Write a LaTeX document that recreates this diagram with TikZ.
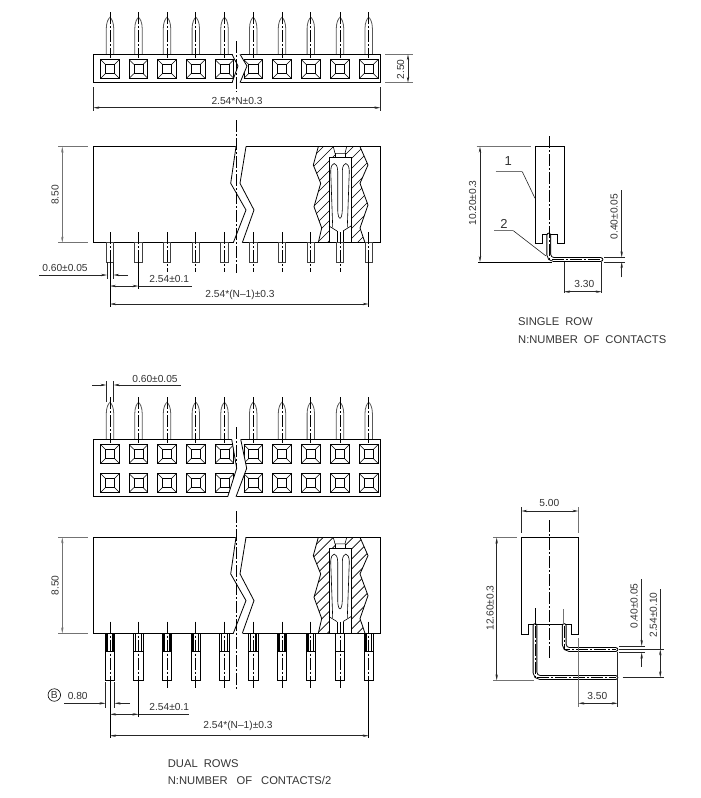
\documentclass[tikz,border=0pt]{standalone}
\usepackage{fontspec}
\setmainfont{Liberation Sans}
\usetikzlibrary{arrows.meta}
\tikzset{
  part/.style={draw, line width=0.8pt},
  thin part/.style={draw, line width=0.6pt},
  centreline/.style={draw, line width=0.7pt, dash pattern=on 12pt off 2pt on 2pt off 2pt},
  dimline/.style={draw, line width=0.6pt, black!85, >={Stealth[length=6pt,width=2.4pt]}},
  dimgrey/.style={dimline, black!55},
  dimtext/.style={font=\fontsize{10.2}{12}\selectfont, text=black!80, inner sep=0pt},
  calltext/.style={font=\fontsize{13}{15}\selectfont, text=black!80, inner sep=0pt},
  notetext/.style={font=\fontsize{11.2}{13}\selectfont, text=black!80, inner sep=0pt, anchor=west},
  pinwire/.style={draw, line width=0.9pt, double, double distance=2.8pt, rounded corners=5pt, line cap=round}
}
\def\pinxs{110,138.5,167,195.8,224.5,253.2,282,310.8,340,368.7}
\newcommand{\socketcell}[2]{
  \begin{scope}[shift={(#1,#2)}]
    \path [part] (-9.3,-9.3) rectangle (9.3,9.3);
    \path [thin part] (-4.7,-4.7) rectangle (4.7,4.7);
    \path [thin part] (-9.3,-9.3) -- (-4.7,-4.7) (9.3,-9.3) -- (4.7,-4.7);
    \path [thin part] (-9.3,9.3) -- (-4.7,4.7) (9.3,9.3) -- (4.7,4.7);
  \end{scope}
}
\newcommand{\pintop}[2]{
  \path [part, black!65] (#1-3.7,#2) -- (#1-3.7,#2-26) .. controls (#1-3.7,#2-32) and (#1-1.5,#2-36) .. (#1,#2-37)
    .. controls (#1+1.5,#2-36) and (#1+3.7,#2-32) .. (#1+3.7,#2-26) -- (#1+3.7,#2);
  \path [centreline] (#1,#2-42) -- (#1,#2+4);
}
\begin{document}
\begin{tikzpicture}[x=1pt,y=-1pt]
  \useasboundingbox (0,0) rectangle (701,798);

  % single row, top view
  \foreach \px in \pinxs { \pintop{\px}{54.3} }
  \path [part] (93.3,54.3) rectangle (380.5,82.7);
  \foreach \px in \pinxs { \socketcell{\px}{69} }
  \path [fill=white] (232,53) -- (238,66) -- (232,84) -- (240,84) -- (247,66) -- (240,53) -- cycle;
  \path [part] (232,54.3) -- (238,66) -- (232,82.7);
  \path [part] (240,54.3) -- (247,66) -- (240,82.7);
  \path [centreline] (236.7,41) -- (236.7,92);

  % housing front view, one for each row type
  \foreach \by in {0,390.6} {
    \begin{scope}[shift={(0,\by)}]
      \path [part] (93.3,146.7) rectangle (380.5,242.7);
      \path [fill=white] (236,145) -- (230.7,183.3) -- (246,210) -- (233.3,244) -- (242.3,244) -- (254,210) -- (240,183.3) -- (246,145) -- cycle;
      \path [part] (236,146.7) -- (230.7,183.3) -- (246,210) -- (233.3,242.7);
      \path [part] (246,146.7) -- (240,183.3) -- (254,210) -- (242.3,242.7);
      % section through one contact
      \begin{scope}
        \clip (318.3,146.7) -- (313.3,165) -- (320.7,183.3) -- (314,206.7) -- (321.7,228) -- (318.3,242.7) -- (329,242.7) -- (329,157.3) -- (335,157.3) -- (335,153.3) -- (333.3,146.7) -- cycle
          (346.7,146.7) -- (345,153.3) -- (345,157.3) -- (351,157.3) -- (351,242.7) -- (365,242.7) -- (360,228) -- (368,205) -- (360,183.3) -- (368,165) -- (360,146.7) -- cycle;
        \foreach \h in {150,160,...,310} { \path [thin part] (310,\h) -- ++(62,-62); }
      \end{scope}
      \path [part] (318.3,146.7) -- (313.3,165) -- (320.7,183.3) -- (314,206.7) -- (321.7,228) -- (318.3,242.7);
      \path [part] (360,146.7) -- (368,165) -- (360,183.3) -- (368,205) -- (360,228) -- (365,242.7);
      \path [part] (329,242.7) -- (329,157.3) -- (351,157.3) -- (351,242.7);
      \path [thin part] (333.3,146.7) -- (335,153.3) -- (345,153.3) -- (346.7,146.7);
      \path [thin part] (335,153.3) -- (335,157.3) (345,153.3) -- (345,157.3);
      \path [thin part] (332.7,227.3) -- (330.7,171) .. controls (331,161) and (337.4,161) .. (337.7,171) -- (337.7,210)
        .. controls (338,221) and (342,221) .. (342.3,210) -- (342.3,171) .. controls (342.6,161) and (349,161) .. (349.3,171) -- (347.3,227.3);
      \path [thin part] (329,226) -- (337,231) (351,226) -- (343,231);
      \path [thin part] (337,231) -- (337,242.7) (343,231) -- (343,242.7);
    \end{scope}
  }
  \path [centreline] (236.7,120) -- (236.7,273);
  \path [centreline] (236.7,511) -- (236.7,690);

  % single row, pins
  \foreach \px in \pinxs {
    \path [part, black!75] (\px-3.7,242.7) rectangle (\px+3.7,262.3);
    \path [centreline] (\px,232) -- (\px,272);
  }
  \path [thin part] (110,262) -- (110,306.7) (138.5,262) -- (138.5,289) (368.7,262) -- (368.7,306.7);

  % single row, dimensions
  \path [dimline] (93.3,87.3) -- (93.3,111) (380.5,87.3) -- (380.5,111);
  \path [dimline, <->] (93.3,107.7) -- (380.5,107.7);
  \node [dimtext] (widtha) at (237,100.5) {2.54*N±0.3};
  \path [dimgrey] (385,54.3) -- (412.7,54.3) (385,82.7) -- (412.7,82.7);
  \path [dimline, <->] (408,54.3) -- (408,82.7);
  \node [dimtext, rotate=90] (deptha) at (400.7,69.5) {2.50};
  \path [dimgrey] (58.3,146.7) -- (88.3,146.7) (58.3,242.7) -- (88.3,242.7);
  \path [dimgrey, <->] (62.3,146.7) -- (62.3,242.7);
  \node [dimtext, rotate=90] (heighta) at (55,195) {8.50};
  \path [dimline] (107,262) -- (107,279) (113.3,262) -- (113.3,279);
  \path [dimline, ->] (39.3,275) -- (107,275);
  \path [dimline, ->] (128,275) -- (113.3,275);
  \node [dimtext] (pina) at (65,268) {0.60±0.05};
  \path [dimline, <->] (110,286) -- (138.5,286);
  \path [dimline] (138.5,286) -- (191.7,286);
  \node [dimtext] (pitcha) at (169.3,279) {2.54±0.1};
  \path [dimline, <->] (110,304) -- (368.7,304);
  \node [dimtext] (spana) at (240,294.5) {2.54*(N–1)±0.3};

  % single row, side view
  \path [part] (535.3,243.3) -- (535.3,146.7) -- (564,146.7) -- (564,243.3) -- (557.7,243.3) -- (557.7,234.3) -- (542.3,234.3) -- (542.3,243.3) -- cycle;
  \path [pinwire] (548.7,235) -- (548.7,259.5) -- (601,259.5);
  \path [centreline] (549.3,136) -- (549.3,259.5) -- (601,259.5);
  \path [dimgrey] (476.7,146.7) -- (531,146.7);
  \path [part] (478,262) -- (552,262);
  \path [dimline, <->] (480,146.7) -- (480,262);
  \node [dimtext, rotate=90] (heightb) at (472.7,203) {10.20±0.3};
  \path [dimgrey] (495.7,171.7) -- (522.3,171.7);
  \path [dimline] (522.3,171.7) -- (535,198.3);
  \node [calltext] (callone) at (508.3,161) {1};
  \path [dimgrey] (494,230.7) -- (513.3,230.7);
  \path [dimline] (513.3,230.7) -- (546,256);
  \node [calltext] (calltwo) at (504,223.5) {2};
  \path [dimline] (564,262) -- (564,293.3) (601.7,262) -- (601.7,293.3);
  \path [dimline, <->] (564,291.7) -- (601.7,291.7);
  \node [dimtext] (reacha) at (584.3,284) {3.30};
  \path [dimline] (604,257.3) -- (625,257.3) (604,262) -- (625,262);
  \path [dimline, ->] (621.7,190) -- (621.7,257.3);
  \path [dimline, ->] (621.7,277.3) -- (621.7,262);
  \node [dimtext, rotate=90] (wirea) at (614,216.7) {0.40±0.05};
  \node [notetext] (singlerow) at (518,321.5) {SINGLE\hspace{6pt}ROW};
  \node [notetext] (singlenote) at (518,339.3) {N:NUMBER\hspace{6pt}OF\hspace{6pt}CONTACTS};

  % dual rows, top view
  \foreach \px in \pinxs { \pintop{\px}{439.3} }
  \path [part] (93.3,439.3) rectangle (380.5,496.7);
  \foreach \px in \pinxs { \socketcell{\px}{454} \socketcell{\px}{483} }
  \path [fill=white] (231.7,438) -- (236.7,468.3) -- (227.7,498) -- (236,498) -- (246.7,468.3) -- (240.7,438) -- cycle;
  \path [part] (231.7,439.3) -- (236.7,468.3) -- (227.7,496.7);
  \path [part] (240.7,439.3) -- (246.7,468.3) -- (236,496.7);
  \path [centreline] (236,427.3) -- (236,466);
  \path [dimline] (106.3,381) -- (106.3,401.7) (113.7,381) -- (113.7,401.7);
  \path [dimline, ->] (92.3,385) -- (106.3,385);
  \path [dimline, ->] (180.7,385) -- (113.7,385);
  \node [dimtext] (pinb) at (155,378.7) {0.60±0.05};

  % dual rows, pins
  \foreach \px in \pinxs {
    \path [part] (\px-4.7,633.3) rectangle (\px+4.7,680.7);
    \path [part] (\px-4.7,651.7) -- (\px+4.7,651.7);
    \path [centreline] (\px,621.7) -- (\px,688);
  }
  \foreach \px in {110,138.5,167,195.8,224.5,253.2,282,310.8,368.7} {
    \path [draw, line width=1.5pt] (\px-2.8,633.3) -- (\px-2.8,651.7) (\px+2.8,633.3) -- (\px+2.8,651.7);
  }
  \path [thin part] (110,680) -- (110,738.3) (138.5,680) -- (138.5,716.7) (368.7,680) -- (368.7,738.3);

  % dual rows, dimensions
  \path [dimgrey] (58.3,537.3) -- (88.3,537.3) (58.3,633.3) -- (88.3,633.3);
  \path [dimgrey, <->] (62.3,537.3) -- (62.3,633.3);
  \node [dimtext, rotate=90] (heightc) at (55,585.5) {8.50};
  \node [circle, draw, line width=0.6pt, minimum size=12.5pt, inner sep=0pt, font=\fontsize{10.2}{12}\selectfont, text=black!80] (datum) at (54.3,695) {B};
  \node [dimtext] (pinc) at (77.7,696) {0.80};
  \path [dimline] (105.5,682) -- (105.5,708) (114.5,682) -- (114.5,708);
  \path [dimline, ->] (64.3,703.3) -- (105.5,703.3);
  \path [dimline, ->] (130,703.3) -- (114.5,703.3);
  \path [dimline, <->] (110,714.3) -- (138.5,714.3);
  \path [dimline] (138.5,714.3) -- (189.3,714.3);
  \node [dimtext] (pitchc) at (169.3,706.7) {2.54±0.1};
  \path [dimline, <->] (110,735.7) -- (368.7,735.7);
  \node [dimtext] (spanc) at (238,725.7) {2.54*(N–1)±0.3};
  \node [notetext] (dualrows) at (167.7,763.3) {DUAL\hspace{6pt}ROWS};
  \node [notetext] (dualnote) at (167.7,780) {N:NUMBER\hspace{9pt}OF\hspace{9pt}CONTACTS/2};

  % dual rows, side view
  \path [part] (521.3,634) -- (521.3,537.7) -- (578.3,537.7) -- (578.3,634) -- (571.7,634) -- (571.7,624.7) -- (528.3,624.7) -- (528.3,634) -- cycle;
  \path [pinwire] (535,625.5) -- (535,677.5) -- (616,677.5);
  \path [pinwire] (564.2,625.5) -- (564.2,649.5) -- (616,649.5);
  \path [centreline] (535,625.5) -- (535,677.5) -- (616,677.5);
  \path [centreline] (564.2,625.5) -- (564.2,649.5) -- (616,649.5);
  \path [centreline] (549.3,520) -- (549.3,658.3);
  \path [thin part] (535.7,608) -- (535.7,625);
  \path [dimgrey] (563.7,609) -- (563.7,625);
  \path [dimline] (521.3,507.3) -- (521.3,533.3);
  \path [dimgrey] (578.3,507.3) -- (578.3,533.3);
  \path [dimline, <->] (521.3,511) -- (578.3,511);
  \node [dimtext] (widthd) at (549.3,503.3) {5.00};
  \path [dimgrey] (493.3,537.7) -- (516.7,537.7) (493.3,680.3) -- (534,680.3);
  \path [dimline, <->] (496.7,537.7) -- (496.7,680.3);
  \node [dimtext, rotate=90] (heightd) at (490,608) {12.60±0.3};
  \path [dimgrey] (578.3,638) -- (578.3,706.7);
  \path [dimline] (617.7,652) -- (617.7,706.7);
  \path [dimline, <->] (578.3,703.3) -- (617.7,703.3);
  \node [dimtext] (reachd) at (597.3,696) {3.50};
  \path [dimline] (619.3,646) -- (645,646) (619.3,652.7) -- (645,652.7);
  \path [dimline, ->] (641.7,579.3) -- (641.7,646);
  \path [dimline, ->] (641.7,666.7) -- (641.7,652.7);
  \node [dimtext, rotate=90] (wired) at (634,606) {0.40±0.05};
  \path [dimline] (619,649.3) -- (664,649.3) (622.7,677.3) -- (664,677.3);
  \path [dimline] (660.3,589) -- (660.3,649.3);
  \path [dimline, <->] (660.3,649.3) -- (660.3,677.3);
  \node [dimtext, rotate=90] (rowgap) at (653.3,615) {2.54±0.10};
\end{tikzpicture}
\end{document}
